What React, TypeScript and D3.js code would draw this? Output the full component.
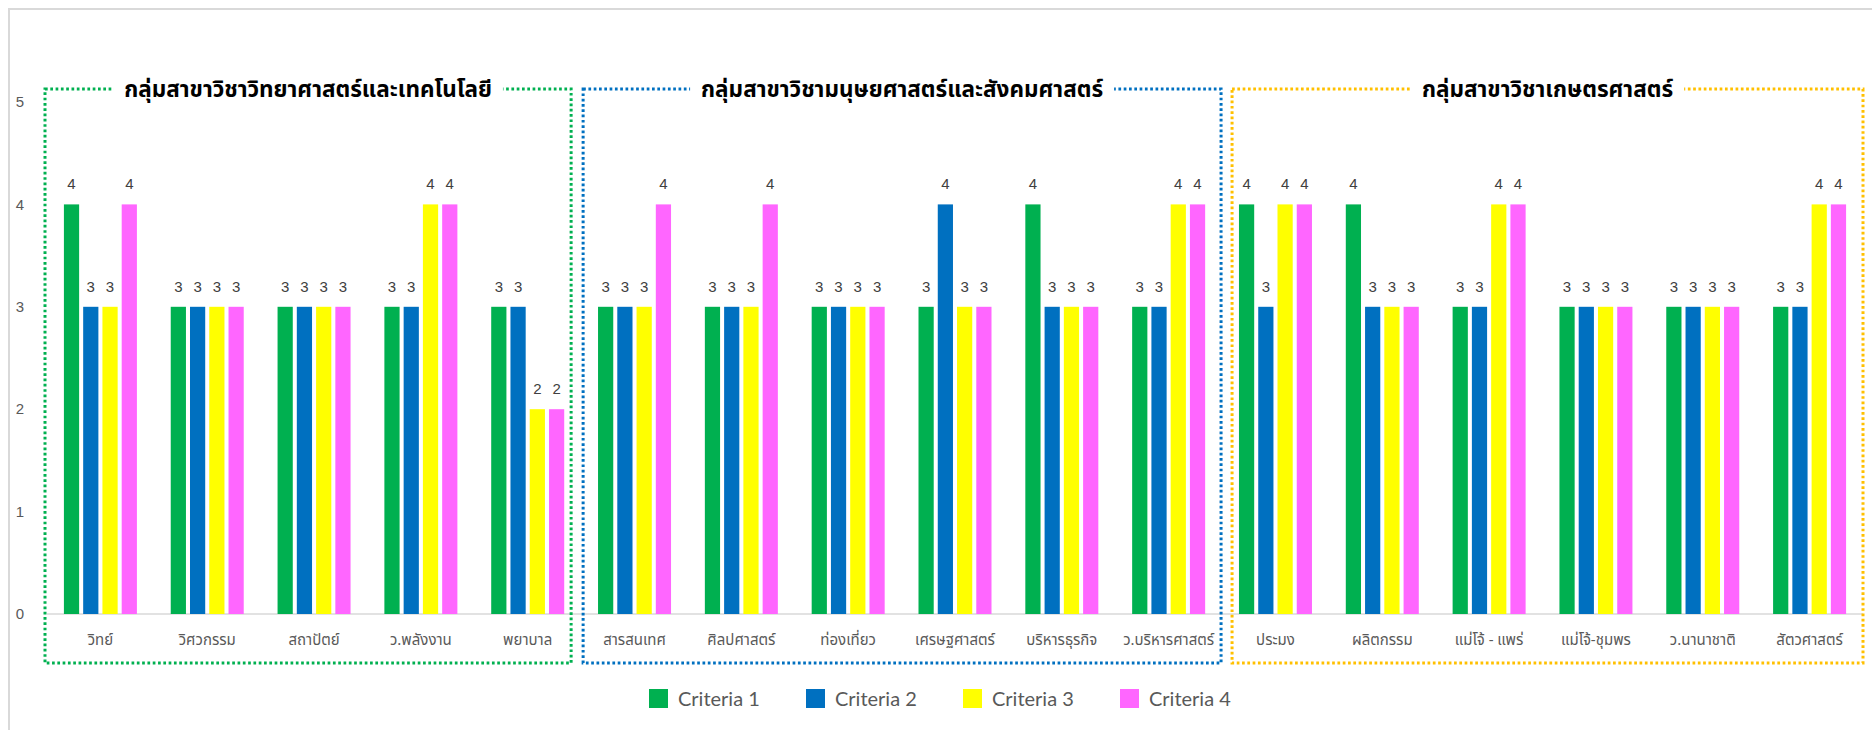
import * as d3 from "d3";
import { useEffect, useRef } from "react";

// categories (faculties), split into three groups
const categories = [
    "วิทย์", "วิศวกรรม", "สถาปัตย์", "ว.พลังงาน", "พยาบาล",
    "สารสนเทศ", "ศิลปศาสตร์", "ท่องเที่ยว", "เศรษฐศาสตร์", "บริหารธุรกิจ", "ว.บริหารศาสตร์",
    "ประมง", "ผลิตกรรม", "แม่โจ้ - แพร่", "แม่โจ้-ชุมพร", "ว.นานาชาติ", "สัตวศาสตร์"
];
const criteria1 = [4, 3, 3, 3, 3, 3, 3, 3, 3, 4, 3, 4, 4, 3, 3, 3, 3];
const criteria2 = [3, 3, 3, 3, 3, 3, 3, 3, 4, 3, 3, 3, 3, 3, 3, 3, 3];
const criteria3 = [3, 3, 3, 4, 2, 3, 3, 3, 3, 3, 4, 4, 3, 4, 3, 3, 4];
const criteria4 = [4, 3, 3, 4, 2, 4, 4, 3, 3, 3, 4, 4, 3, 4, 3, 3, 4];
const seriesNames = ["Criteria 1", "Criteria 2", "Criteria 3", "Criteria 4"];
const groupTitles = [
    "กลุ่มสาขาวิชาวิทยาศาสตร์และเทคโนโลยี",
    "กลุ่มสาขาวิชามนุษยศาสตร์และสังคมศาสตร์",
    "กลุ่มสาขาวิชาเกษตรศาสตร์"
];
const groupSizes = [5, 6, 6];
const yTicks = [0, 1, 2, 3, 4, 5];

const colors = ["#00B050", "#0070C0", "#FFFF00", "#FF66FF"];
const boxColors = ["#00B050", "#0070C0", "#FFC000"];
// offsets added to the band boundaries for the left / right box edges
const boxOffsets = [[-2, -10], [2, -1], [10, 0]];
const thaiFont = "Tahoma, 'Noto Sans Thai', 'Noto Sans', 'DejaVu Sans', sans-serif";

const App = () => {
    const svgRef = useRef<SVGSVGElement | null>(null);

    useEffect(() => {
        if (!svgRef.current) return;
        document.body.style.margin = "0";
        document.body.style.overflow = "hidden";

        const width = 1872;
        const height = 730;
        const plot = { left: 47, right: 1863, top: 102, bottom: 614 };
        const series = [criteria1, criteria2, criteria3, criteria4];

        const svg = d3.select(svgRef.current)
            .attr("width", width)
            .attr("height", height)
            .style("display", "block")
            .style("background", "#fff");
        svg.selectAll("*").remove();

        // chart area border
        svg.append("rect")
            .attr("x", 9).attr("y", 9)
            .attr("width", width).attr("height", height)
            .attr("fill", "none")
            .attr("stroke", "#d9d9d9")
            .attr("stroke-width", 2);

        const x = d3.scaleBand<string>()
            .domain(categories)
            .range([plot.left, plot.right]);
        const step = x.step();
        const xInner = d3.scaleBand<number>()
            .domain([0, 1, 2, 3])
            .range([(step - 73) / 2, (step + 73) / 2])
            .paddingInner(0.21);
        const y = d3.scaleLinear().domain([0, 5]).range([plot.bottom, plot.top]);

        // y axis labels
        svg.append("g")
            .selectAll("text")
            .data(yTicks)
            .join("text")
            .attr("x", 24)
            .attr("y", d => y(d))
            .attr("dy", "0.35em")
            .attr("text-anchor", "end")
            .attr("font-family", "Arial, 'Liberation Sans', sans-serif")
            .attr("font-size", 15)
            .attr("fill", "#595959")
            .text(d => d);

        // baseline
        svg.append("line")
            .attr("x1", plot.left).attr("x2", plot.right)
            .attr("y1", y(0)).attr("y2", y(0))
            .attr("stroke", "#d9d9d9")
            .attr("stroke-width", 1.5);

        // bars + labels
        const cats = svg.append("g")
            .selectAll("g")
            .data(categories)
            .join("g")
            .attr("transform", d => `translate(${x(d)},0)`);

        cats.selectAll("rect")
            .data((_, i) => series.map((s, k) => ({ k, v: s[i] })))
            .join("rect")
            .attr("x", d => xInner(d.k)!)
            .attr("width", xInner.bandwidth())
            .attr("y", d => y(d.v))
            .attr("height", d => y(0) - y(d.v))
            .attr("fill", d => colors[d.k]);

        cats.selectAll("text.val")
            .data((_, i) => series.map((s, k) => ({ k, v: s[i] })))
            .join("text")
            .attr("class", "val")
            .attr("x", d => xInner(d.k)! + xInner.bandwidth() / 2)
            .attr("y", d => y(d.v) - 15)
            .attr("text-anchor", "middle")
            .attr("font-family", "Arial, 'Liberation Sans', sans-serif")
            .attr("font-size", 15)
            .attr("fill", "#404040")
            .text(d => d.v);

        // category labels
        cats.append("text")
            .attr("x", step / 2)
            .attr("y", 640)
            .attr("dy", "0.35em")
            .attr("text-anchor", "middle")
            .attr("font-family", thaiFont)
            .attr("font-size", 15)
            .attr("fill", "#595959")
            .text(d => d);

        // dotted group boxes with titles
        let start = 0;
        groupSizes.forEach((n, g) => {
            const left = x(categories[start])! + boxOffsets[g][0];
            const right = (start + n < categories.length ? x(categories[start + n])! : plot.right) + boxOffsets[g][1];
            start += n;
            const top = 89;
            const bottom = 663;
            svg.append("rect")
                .attr("x", left).attr("y", top)
                .attr("width", right - left).attr("height", bottom - top)
                .attr("fill", "none")
                .attr("stroke", boxColors[g])
                .attr("stroke-width", 3)
                .attr("stroke-dasharray", "2.7 2.6");

            const cx = (left + right) / 2;
            const bg = svg.append("rect").attr("fill", "#fff");
            const t = svg.append("text")
                .attr("x", cx)
                .attr("y", top)
                .attr("dy", "0.35em")
                .attr("text-anchor", "middle")
                .attr("font-family", thaiFont)
                .attr("font-weight", "bold")
                .attr("font-size", 22.5)
                .attr("fill", "#000")
                .text(groupTitles[g]);
            const w = (t.node() as SVGTextElement).getComputedTextLength();
            bg.attr("x", cx - w / 2 - 11).attr("y", top - 10)
                .attr("width", w + 22).attr("height", 20);
        });

        // legend
        const legend = svg.append("g")
            .selectAll("g")
            .data(seriesNames)
            .join("g")
            .attr("transform", (_, i) => `translate(${649 + i * 157},689)`);
        legend.append("rect")
            .attr("width", 19).attr("height", 19)
            .attr("fill", (_, i) => colors[i]);
        legend.append("text")
            .attr("x", 29).attr("y", 9.5)
            .attr("dy", "0.35em")
            .attr("font-family", "Lato, 'Noto Sans', sans-serif")
            .attr("font-size", 20)
            .attr("fill", "#595959")
            .text(d => d);
    }, []);

    return <svg ref={svgRef}></svg>;
};

export default App;
